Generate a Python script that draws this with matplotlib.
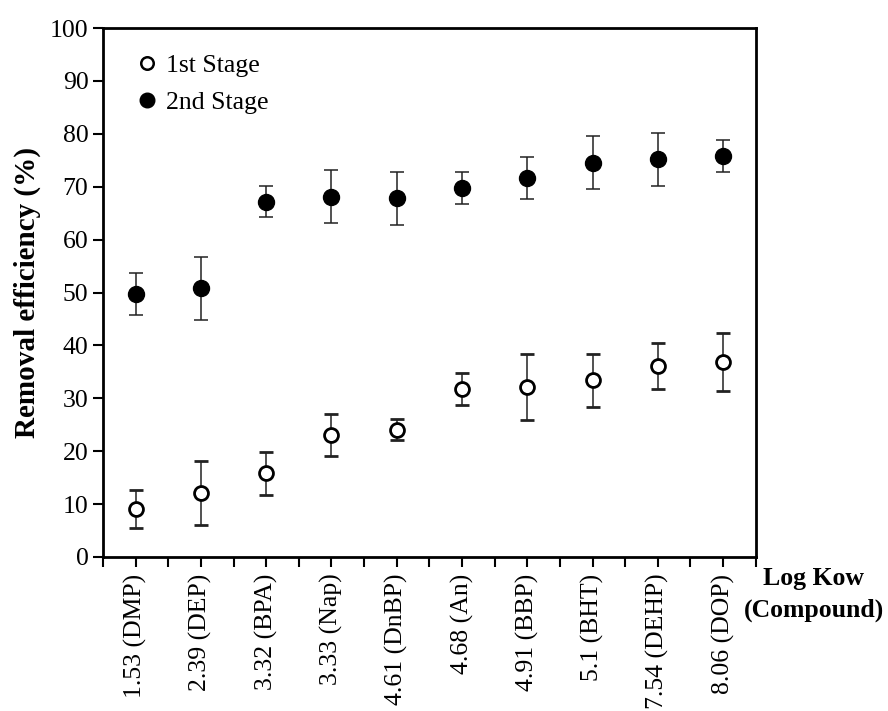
import matplotlib
matplotlib.use("Agg")
import matplotlib.pyplot as plt
from matplotlib.lines import Line2D

plt.rcParams['font.family'] = ['Liberation Serif', 'DejaVu Serif']

compounds = ["1.53 (DMP)", "2.39 (DEP)", "3.32 (BPA)", "3.33 (Nap)", "4.61 (DnBP)",
             "4.68 (An)", "4.91 (BBP)", "5.1 (BHT)", "7.54 (DEHP)", "8.06 (DOP)"]

stage1 = [9.1, 12.1, 15.8, 23.1, 24.1, 31.8, 32.1, 33.4, 36.1, 36.8]
stage1_err = [3.6, 6.0, 4.0, 4.0, 2.0, 3.0, 6.2, 5.0, 4.4, 5.5]

stage2 = [49.7, 50.8, 67.2, 68.1, 67.8, 69.8, 71.6, 74.5, 75.2, 75.8]
stage2_err = [4.0, 6.0, 3.0, 5.0, 5.0, 3.0, 4.0, 5.0, 5.0, 3.0]

x = list(range(1, len(compounds) + 1))

fig = plt.figure(figsize=(8.88, 7.11), dpi=100)
ax = fig.add_axes([0.116, 0.2166, 0.735, 0.744])

ax.errorbar(x, stage1, yerr=stage1_err, fmt="o", mfc="white", mec="black", mew=2,
            ms=10, ecolor="#222222", elinewidth=1.1, capsize=5, capthick=1.1, zorder=3)
ax.errorbar(x, stage2, yerr=stage2_err, fmt="o", mfc="black", mec="black",
            ms=11.5, ecolor="#222222", elinewidth=1.1, capsize=5, capthick=1.1, zorder=3)

ax.set_xlim(0.5, len(compounds) + 0.5)
ax.set_ylim(0, 100)
ax.set_yticks(range(0, 101, 10))
ax.set_xticks(x)
ax.set_xticks([i + 0.5 for i in range(0, len(compounds) + 1)], minor=True)
ax.set_xticklabels(compounds, rotation=90)

ax.tick_params(axis="both", which="both", direction="out", length=7, width=1.5,
               labelsize=18.5, color="black")
ax.tick_params(axis="x", which="major", pad=5)
for s in ax.spines.values():
    s.set_linewidth(2)

ax.set_ylabel("Removal efficiency (%)", fontsize=21, fontweight="bold", labelpad=6)

fig.text(0.916, 0.187, "Log Kow", fontsize=18.5, fontweight="bold", ha="center", va="center")
fig.text(0.917, 0.142, "(Compound)", fontsize=18.5, fontweight="bold", ha="center", va="center")

handles = [
    Line2D([], [], ls="none", marker="o", mfc="white", mec="black", mew=1.8, ms=9),
    Line2D([], [], ls="none", marker="o", mfc="black", mec="black", ms=10.5),
]
ax.legend(handles, ["1st Stage", "2nd Stage"], loc="upper left", frameon=False,
          fontsize=18.5, handletextpad=0.05, borderaxespad=0.6, labelspacing=0.55,
          handlelength=1.4)

fig.savefig("out.png", dpi=100)
